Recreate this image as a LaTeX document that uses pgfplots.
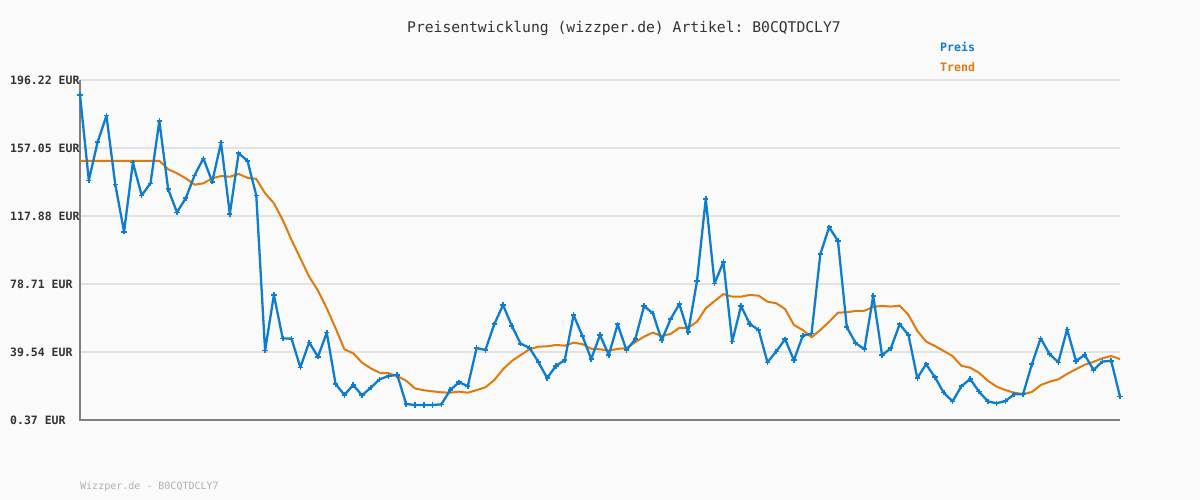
\documentclass[border=0pt]{standalone}
\usepackage{pgfplots}
\pgfplotsset{compat=1.18}
\usepackage{fontspec}
\setmainfont{DejaVu Sans Mono}
\setmonofont{DejaVu Sans Mono}
\frenchspacing
\definecolor{bg}{HTML}{FAFAFA}
\definecolor{preis}{HTML}{0E7DD0}
\definecolor{trend}{HTML}{E07A0A}
\definecolor{gridc}{HTML}{E2E2E2}
\definecolor{axc}{HTML}{7F7F7F}
\definecolor{titlec}{HTML}{333333}
\definecolor{footc}{HTML}{B0B0B0}
\begin{document}
\begin{tikzpicture}[x=1pt,y=1pt]
\fill[bg] (0,0) rectangle (1200,500);
\begin{axis}[
  at={(80pt,80pt)}, anchor=south west,
  scale only axis, width=1040pt, height=340pt,
  xmin=0, xmax=118, ymin=0.37, ymax=196.22,
  axis x line=bottom, axis y line=left,
  axis line style={axc, line width=2.8pt, -},
  x axis line style={shorten <=-1.4pt},
  xtick=\empty,
  ytick={0.37,39.54,78.71,117.88,157.05,196.22},
  yticklabels={0.37 EUR,39.54 EUR,78.71 EUR,117.88 EUR,157.05 EUR,196.22 EUR},
  yticklabel style={anchor=west, xshift=-70pt, font=\fontsize{11.5}{12}\selectfont\bfseries, text=titlec, inner sep=0pt},
  major tick length=0pt,
  ymajorgrids, major grid style={gridc, line width=2pt},
  clip=false,
]
\addplot[trend, line width=2pt, line join=round] coordinates {
(0,149.7)(1,149.7)(2,149.7)(3,149.7)(4,149.7)(5,149.7)(6,149.7)(7,149.7)(8,149.7)(9,149.7)
(10,144.8)(11,142.5)(12,139.6)(13,135.9)(14,136.7)(15,139.6)(16,140.9)(17,140.5)(18,142.1)(19,139.9)
(20,139.2)(21,131.0)(22,125.2)(23,115.6)(24,104.1)(25,93.5)(26,82.9)(27,74.9)(28,64.7)(29,53.2)
(30,41.1)(31,38.8)(32,33.4)(33,30.1)(34,27.6)(35,27.3)(36,25.7)(37,23.0)(38,18.6)(39,17.5)
(40,16.9)(41,16.3)(42,16.1)(43,16.7)(44,16.1)(45,17.6)(46,19.2)(47,23.4)(48,29.6)(49,34.4)
(50,37.8)(51,41.1)(52,42.6)(53,42.8)(54,43.6)(55,43.2)(56,44.9)(57,44.1)(58,41.4)(59,41.1)
(60,40.3)(61,41.3)(62,41.8)(63,45.2)(64,48.4)(65,50.7)(66,48.8)(67,49.9)(68,53.5)(69,53.5)
(70,57.0)(71,64.7)(72,68.9)(73,72.9)(74,71.4)(75,71.4)(76,72.4)(77,72.0)(78,68.5)(79,67.6)
(80,64.3)(81,55.1)(82,52.2)(83,48.0)(84,52.2)(85,57.0)(86,62.2)(87,62.4)(88,63.2)(89,63.3)
(90,65.5)(91,66.1)(92,65.7)(93,66.2)(94,60.9)(95,51.7)(96,45.5)(97,43.0)(98,40.1)(99,37.2)
(100,31.6)(101,30.5)(102,27.6)(103,23.0)(104,19.6)(105,17.6)(106,16.1)(107,15.3)(108,16.5)(109,20.5)
(110,22.4)(111,23.8)(112,26.9)(113,29.6)(114,32.2)(115,33.9)(116,35.9)(117,37.2)(118,35.5)
};
\addplot[preis, line width=2.3pt, line join=round, mark=+, mark size=2.6pt, mark options={line width=1.6pt}] coordinates {
(0,187.6)(1,138.4)(2,160.5)(3,175.7)(4,136.1)(5,108.8)(6,148.6)(7,129.8)(8,136.7)(9,172.6)
(10,133.4)(11,120.0)(12,128.1)(13,141.3)(14,151.1)(15,137.6)(16,160.1)(17,119.0)(18,154.0)(19,149.7)
(20,129.8)(21,40.3)(22,72.4)(23,47.4)(24,47.2)(25,30.7)(26,45.1)(27,36.8)(28,50.7)(29,21.1)
(30,14.8)(31,20.5)(32,14.6)(33,19.0)(34,23.8)(35,25.7)(36,26.3)(37,9.6)(38,9.0)(39,9.0)
(40,9.0)(41,9.4)(42,17.6)(43,22.1)(44,19.9)(45,41.8)(46,40.7)(47,55.5)(48,66.6)(49,54.5)
(50,44.3)(51,42.0)(52,33.8)(53,24.6)(54,31.5)(55,34.9)(56,60.8)(57,48.8)(58,35.5)(59,49.3)
(60,37.8)(61,55.5)(62,40.6)(63,46.9)(64,66.0)(65,61.8)(66,46.3)(67,58.4)(68,67.2)(69,50.9)
(70,80.3)(71,127.7)(72,79.1)(73,91.4)(74,45.5)(75,66.0)(76,55.7)(77,52.2)(78,33.6)(79,39.9)
(80,46.9)(81,34.8)(82,48.9)(83,50.1)(84,96.0)(85,111.4)(86,103.5)(87,53.9)(88,44.7)(89,41.1)
(90,71.8)(91,37.8)(92,41.7)(93,55.5)(94,49.3)(95,24.5)(96,32.5)(97,25.0)(98,16.1)(99,11.1)
(100,19.8)(101,24.0)(102,16.7)(103,11.1)(104,10.0)(105,11.3)(106,15.2)(107,15.2)(108,32.5)(109,47.4)
(110,38.4)(111,33.6)(112,52.6)(113,34.4)(114,37.8)(115,29.2)(116,34.0)(117,34.5)(118,13.8)
};
\end{axis}
\node[anchor=center, text=titlec, font=\fontsize{14.7}{16}\selectfont, inner sep=0pt] at (624,472) {Preisentwicklung (wizzper.de) Artikel: B0CQTDCLY7};
\node[anchor=west, text=preis, font=\fontsize{11.6}{12}\selectfont\bfseries, inner sep=0pt] at (940,453) {Preis};
\node[anchor=west, text=trend, font=\fontsize{11.6}{12}\selectfont\bfseries, inner sep=0pt] at (940,433) {Trend};
\node[anchor=west, text=footc, font=\fontsize{10}{11}\selectfont, inner sep=0pt] at (80,13) {Wizzper.de - B0CQTDCLY7};
\end{tikzpicture}
\end{document}
